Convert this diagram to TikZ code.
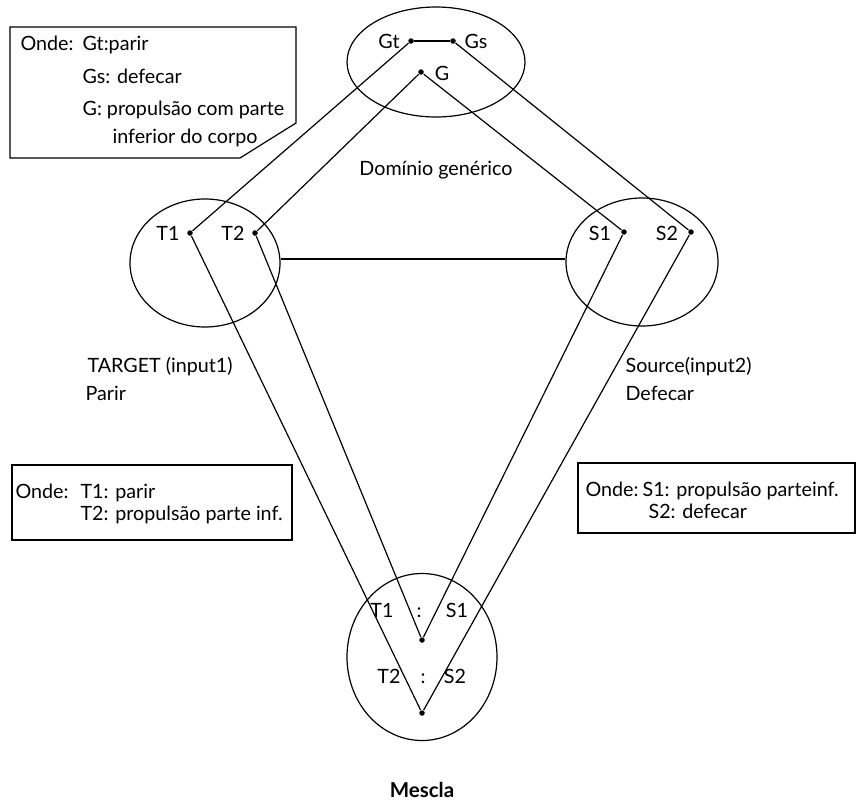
\documentclass[tikz,border=0pt]{standalone}
\usepackage{fontspec}
\setmainfont{Lato}
\usetikzlibrary{shapes.geometric}
\begin{document}
\begin{tikzpicture}[x=1pt,y=-1pt,line width=1.2pt,
  dot/.style={circle,fill,inner sep=0pt,minimum size=5.5pt},
  oval/.style={draw,ellipse,inner sep=0pt},
  lbl/.style={anchor=base,inner sep=0pt,font=\fontsize{19.7}{22}\selectfont},
  lblw/.style={anchor=base west,inner sep=0pt,font=\fontsize{19.7}{22}\selectfont},
  boxline/.style={draw,line width=1.2pt}]
\useasboundingbox (0,0) rectangle (858,803);
% ellipses
\node[oval,minimum width=178pt,minimum height=110pt] (EG) at (436,62) {};
\node[oval,minimum width=150pt,minimum height=128pt] (ET) at (205,263) {};
\node[oval,minimum width=152pt,minimum height=128pt] (ES) at (642,262) {};
\node[oval,minimum width=150pt,minimum height=167pt] (EM) at (422,657) {};
% dots
\node[dot] (Gt) at (411,41) {};
\node[dot] (Gs) at (453,41) {};
\node[dot] (G) at (421,72) {};
\node[dot] (T1) at (190,233) {};
\node[dot] (T2) at (255,233) {};
\node[dot] (S1) at (624,232) {};
\node[dot] (S2) at (691,232) {};
\node[dot] (M1) at (422,640) {};
\node[dot] (M2) at (422,713) {};
% connectors
\draw (Gt) -- (Gs);
\draw (Gt) -- (T1);
\draw (G) -- (T2);
\draw (G) -- (S1);
\draw (Gs) -- (S2);
\draw (T1) -- (M2);
\draw (T2) -- (M1);
\draw (S1) -- (M1);
\draw (S2) -- (M2);
\coordinate (hl) at (0,259);
\draw (ET.east |- hl) -- (ES.west |- hl);
% point labels
\node[lbl] (lGt) at (389,48) {Gt};
\node[lbl] (lGs) at (476,48) {Gs};
\node[lbl] (lG) at (442,80) {G};
\node[lbl] (lT1) at (168,240) {T1};
\node[lbl] (lT2) at (233,240) {T2};
\node[lbl] (lS1) at (600,240) {S1};
\node[lbl] (lS2) at (667,240) {S2};
\node[lbl] (mT1) at (382,617) {T1};
\node[lbl] (mc1) at (419,617) {:};
\node[lbl] (mS1) at (457,617) {S1};
\node[lbl] (mT2) at (389,683) {T2};
\node[lbl] (mc2) at (423,683) {:};
\node[lbl] (mS2) at (455,683) {S2};
% captions
\node[lbl] (dom) at (436,175) {Domínio genérico};
\node[lblw] (tgt) at (87,372) {TARGET (input1)};
\node[lblw] (par) at (85,400) {Parir};
\node[lblw] (src) at (625,372) {Source(input2)};
\node[lblw] (def) at (625,400) {Defecar};
\node[lbl,font=\fontsize{20.5}{22}\selectfont\bfseries] (mes) at (422,797) {Mescla};
% top-left box
\draw[boxline] (10,27) -- (296,27) -- (296,123) -- (240,158) -- (10,158) -- cycle;
\node[lblw] (b1a) at (20,50) {Onde:};
\node[lblw] (b1b) at (82,50) {Gt:parir};
\node[lblw] (b1c) at (82,83) {Gs: defecar};
\node[lblw] (b1d) at (82,115) {G: propulsão com parte};
\node[lblw] (b1e) at (112,143) {inferior do corpo};
% left box
\draw[boxline] (12,465) rectangle (292,540);
\node[lblw] (b2a) at (15,498) {Onde:};
\node[lblw] (b2b) at (80,498) {T1: parir};
\node[lblw] (b2c) at (80,520) {T2: propulsão parte inf.};
% right box
\draw[boxline] (578,463) rectangle (855,533);
\node[lblw] (b3a) at (585,496) {Onde:};
\node[lblw] (b3b) at (642,496) {S1: propulsão parteinf.};
\node[lblw] (b3c) at (648,518) {S2: defecar};
\end{tikzpicture}
\end{document}
